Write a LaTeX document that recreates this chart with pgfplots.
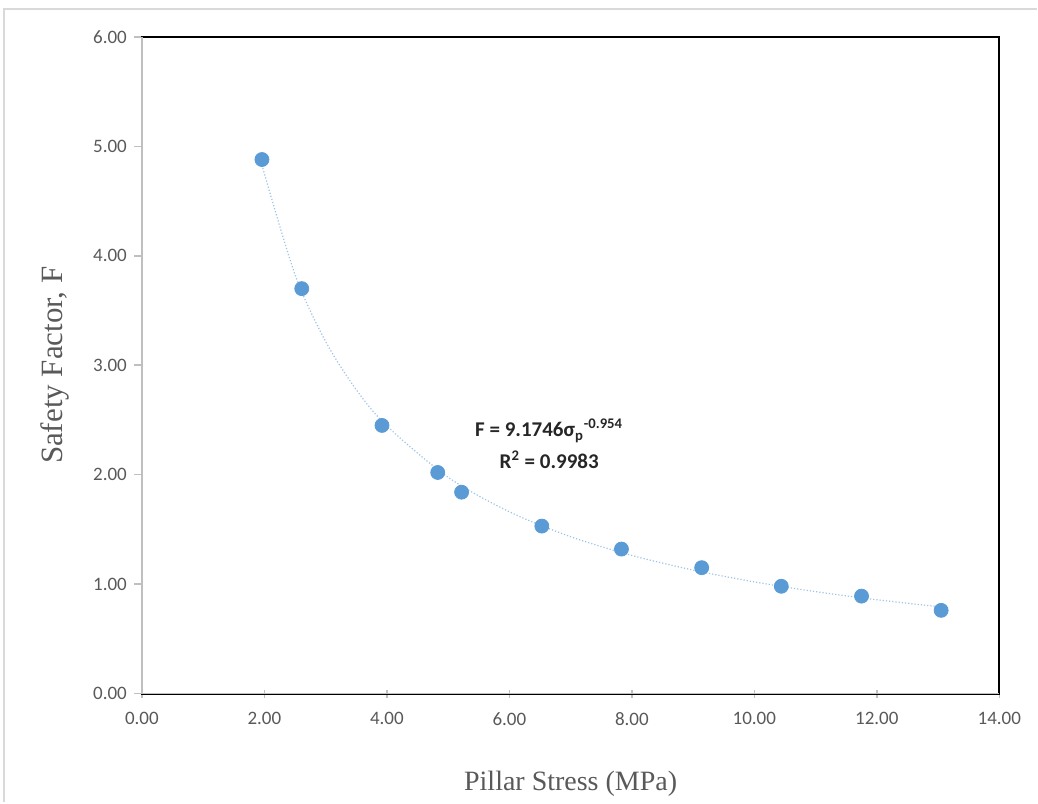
\documentclass[border=0pt]{standalone}
\usepackage{fontspec}
\setmainfont{Carlito}
\newfontfamily\timesfont{Liberation Serif}
\usepackage{pgfplots}
\pgfplotsset{compat=1.18}

\definecolor{ptblue}{HTML}{5B9BD5}
\definecolor{trendblue}{HTML}{9DC3E6}
\definecolor{axgray}{HTML}{BFBFBF}
\definecolor{txtgray}{HTML}{595959}

\begin{document}
\begin{tikzpicture}
\begin{axis}[
    scale only axis,
    width=429pt, height=328.5pt,
    xmin=0, xmax=14, ymin=0, ymax=6,
    xtick={0,2,...,14}, ytick={0,1,...,6},
    xtick pos=left, ytick pos=left,
    xtick align=center, ytick align=outside,
    major tick length=4pt,
    tick style={axgray, line width=0.8pt},
    axis line style={black, line width=1pt},
    ticklabel style={font=\fontsize{9.5}{11}\selectfont, text=txtgray},
    /pgf/number format/assume math mode=true,
    /pgf/number format/.cd, fixed, fixed zerofill, precision=2,
    /pgfplots/.cd,
    xlabel={Pillar Stress (MPa)},
    ylabel={Safety Factor, F},
    every axis x label/.style={at={([yshift=-45pt]axis description cs:0.5,0)}, anchor=center,
        font=\timesfont\fontsize{14}{16}\selectfont, text=txtgray},
    every axis y label/.style={at={([xshift=-43.5pt]axis description cs:0,0.5)}, anchor=center, rotate=90,
        font=\timesfont\fontsize{15.5}{17}\selectfont, text=txtgray},
    xticklabel style={yshift=-4pt},
    clip=false,
]
% power trendline
\addplot[trendblue, densely dotted, line width=0.6pt, smooth] coordinates {
    (1.96,4.829) (2.5,3.828) (3,3.217) (3.5,2.777) (4,2.445) (5,1.976)
    (6,1.661) (7,1.433) (8,1.262) (9,1.128) (10,1.020) (11,0.931)
    (12,0.857) (13.05,0.791)
};
\addplot[only marks, mark=*, mark size=3.5pt, mark options={fill=ptblue, draw=ptblue}] coordinates {
    (1.96,4.88) (2.61,3.70) (3.92,2.45) (4.83,2.02) (5.22,1.84)
    (6.53,1.53) (7.83,1.32) (9.14,1.15) (10.44,0.98) (11.75,0.89)
    (13.05,0.76)
};
\node[font=\fontsize{10.5}{12}\selectfont\bfseries, text=black!85, align=center] at (axis cs:6.65,2.28)
    {F = 9.1746σ\textsubscript{p}\textsuperscript{-0.954}\\[4pt] R\textsuperscript{2} = 0.9983};
\end{axis}
% grey left and bottom axis lines over the black frame
\draw[axgray, line width=0.9pt] (current axis.north west) -- (current axis.south west) -- (current axis.south east);
% chart area border
\draw[black!15, line width=0.7pt] ([shift={(-69pt,-54.5pt)}]current axis.south west) |- ([shift={(19pt,14pt)}]current axis.north east);
\path ([shift={(-71pt,-54.5pt)}]current axis.south west);
\path ([shift={(19pt,18.5pt)}]current axis.north east);
\end{tikzpicture}
\end{document}
